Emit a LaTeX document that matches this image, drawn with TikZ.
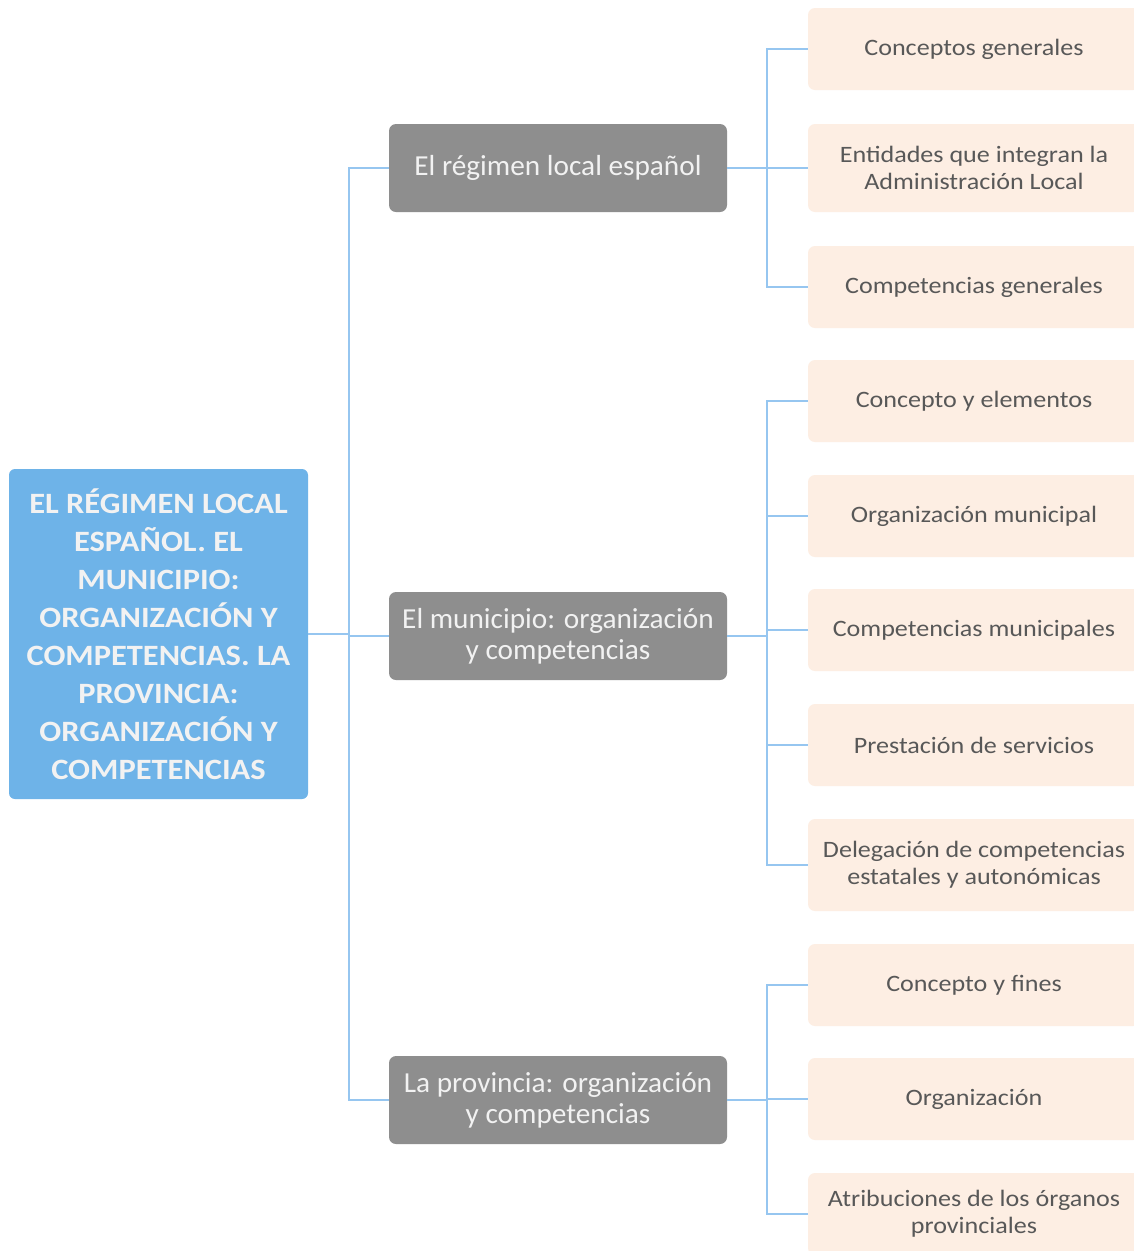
\documentclass[tikz,border=0pt]{standalone}
\usepackage{fontspec}
\setmainfont{Carlito}
\newfontfamily\rootfont[FakeStretch=1.1]{Carlito}
\newfontfamily\leaffont[FakeStretch=1.11]{Carlito}
\newfontfamily\midfont[FakeStretch=1.01]{Carlito}
\definecolor{rootfill}{RGB}{110,179,232}
\definecolor{midfill}{RGB}{142,142,142}
\definecolor{leaffill}{RGB}{253,238,227}
\definecolor{leaftext}{RGB}{88,88,88}
\definecolor{midtext}{RGB}{242,242,242}
\definecolor{wire}{RGB}{150,198,240}
\tikzset{
  rootbox/.style={fill=rootfill, rounded corners=6pt, minimum width=299pt, minimum height=330pt,
    align=center, text=midtext, font=\rootfont\fontsize{29.5}{38}\selectfont\bfseries, inner sep=0pt},
  midbox/.style={fill=midfill, rounded corners=7pt, minimum width=338pt, minimum height=88pt,
    align=center, text=midtext, font=\midfont\fontsize{29}{31}\selectfont, inner sep=0pt},
  leafbox/.style={fill=leaffill, rounded corners=7pt, minimum width=332pt, minimum height=82pt,
    align=center, text=leaftext, font=\leaffont\fontsize{23.5}{27}\selectfont, inner sep=0pt},
  wireline/.style={draw=wire, line width=1.7pt},
}
\begin{document}
\begin{tikzpicture}[x=1pt, y=-1pt]
\clip (0,0) rectangle (1134,1251);
\fill[white] (0,0) rectangle (1134,1251);

% root topic
\node[rootbox] (root) at (158.5,634) {EL RÉGIMEN LOCAL\\ESPAÑOL. EL\\MUNICIPIO:\\ORGANIZACIÓN Y\\COMPETENCIAS. LA\\PROVINCIA:\\ORGANIZACIÓN Y\\COMPETENCIAS};

% main branches
\node[midbox] (m1) at (558,168) {El régimen local español};
\node[midbox] (m2) at (558,636) {El municipio: organización\\y competencias};
\node[midbox] (m3) at (558,1100) {La provincia: organización\\y competencias};

% leaves
\node[leafbox] (l1) at (974,49) {Conceptos generales};
\node[leafbox, minimum height=88pt] (l2) at (974,168) {Entidades que integran la\\Administración Local};
\node[leafbox] (l3) at (974,287) {Competencias generales};
\node[leafbox] (l4) at (974,401) {Concepto y elementos};
\node[leafbox] (l5) at (974,516) {Organización municipal};
\node[leafbox] (l6) at (974,630) {Competencias municipales};
\node[leafbox] (l7) at (974,745) {Prestación de servicios};
\node[leafbox, minimum height=92pt] (l8) at (974,865) {Delegación de competencias\\estatales y autonómicas};
\node[leafbox] (l9) at (974,985) {Concepto y fines};
\node[leafbox] (l10) at (974,1099) {Organización};
\node[leafbox] (l11) at (974,1214) {Atribuciones de los órganos\\provinciales};

% root to branches
\foreach \m in {m1,m2,m3}
  \draw[wireline] (root.east) -- ++(41,0) |- (\m.west);

% branches to leaves
\foreach \l in {l1,l2,l3}
  \draw[wireline] (m1.east) -- ++(40,0) |- (\l.west);
\foreach \l in {l4,l5,l6,l7,l8}
  \draw[wireline] (m2.east) -- ++(40,0) |- (\l.west);
\foreach \l in {l9,l10,l11}
  \draw[wireline] (m3.east) -- ++(40,0) |- (\l.west);
\end{tikzpicture}
\end{document}
